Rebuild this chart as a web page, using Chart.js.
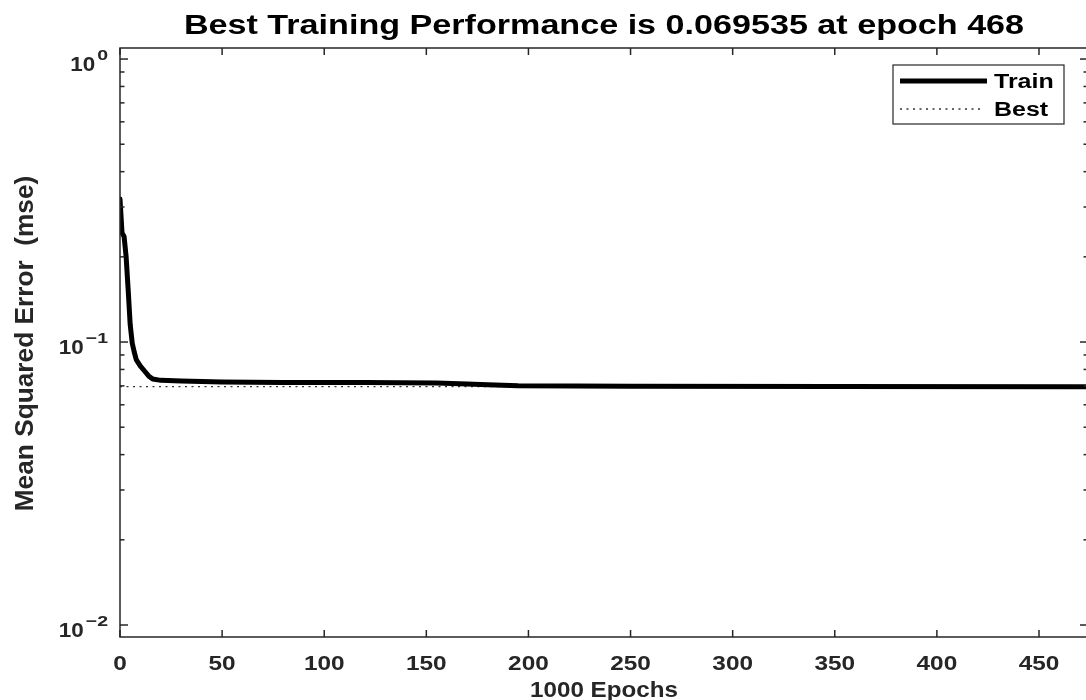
<!DOCTYPE html>
<html>
<head>
<meta charset="utf-8">
<title>Training performance</title>
<script src="https://cdn.jsdelivr.net/npm/chart.js@4.4.1/dist/chart.umd.min.js"></script>
<style>
  html, body { margin: 0; padding: 0; background: #ffffff; overflow: hidden; width: 1086px; height: 700px; }
  #wrap { position: absolute; left: 0; top: 0; width: 1092px; height: 700px; }
</style>
</head>
<body>
<div id="wrap"><canvas id="perf" width="1092" height="700"></canvas></div>
<script>
// ---- data ----
const epochs   = [0, 1, 2, 3, 4, 5, 6, 7, 8, 10, 12, 14, 16, 20, 30, 50, 80, 120, 155, 170, 180, 195, 250, 350, 468, 474];
const trainMse = [0.320, 0.243, 0.236, 0.200, 0.153, 0.115, 0.099, 0.092, 0.0865, 0.0822, 0.0790, 0.0759, 0.0740, 0.0732,
                  0.0728, 0.0722, 0.0720, 0.0719, 0.0716, 0.0711, 0.0706, 0.0700, 0.0698, 0.0697, 0.069535, 0.069535];
const bestMse = 0.069535;
const bestEpoch = 468;
const lastEpoch = 474;
const xTickStep = 50;
const yMajorTicks = [0.01, 0.1, 1];
const yMajorExponents = ['\u22122', '\u22121', '0'];
const titleText = 'Best Training Performance is ' + bestMse.toFixed(6) + ' at epoch ' + bestEpoch;
const xTitleText = '1000 Epochs';
const yTitleText = 'Mean Squared Error  (mse)';
const legendLabels = ['Train', 'Best'];

// ---- style ----
const AXIS_COLOR = '#262626';
const FONT = '"Liberation Sans", Arial, Helvetica, sans-serif';

// minor log ticks 2..9 in each full decade
const yMinorTicks = [];
yMajorTicks.slice(0, -1).forEach(d => { for (let m = 2; m <= 9; m++) yMinorTicks.push(m * d); });

function stretchedText(ctx, text, x, y, size, align, sx, color) {
  ctx.save();
  ctx.font = 'bold ' + size + 'px ' + FONT;
  ctx.fillStyle = color || AXIS_COLOR;
  ctx.textBaseline = 'alphabetic';
  ctx.translate(x, y);
  ctx.scale(sx, 1);
  ctx.textAlign = align;
  ctx.fillText(text, 0, 0);
  ctx.restore();
}
function textWidth(ctx, text, size, sx) {
  ctx.save();
  ctx.font = 'bold ' + size + 'px ' + FONT;
  const w = ctx.measureText(text).width * sx;
  ctx.restore();
  return w;
}
function seg(ctx, x1, y1, x2, y2) {
  ctx.beginPath(); ctx.moveTo(x1, y1); ctx.lineTo(x2, y2); ctx.stroke();
}

// box, inward ticks, tick labels, titles and legend
const matlabAxes = {
  id: 'matlabAxes',
  afterDatasetsDraw(chart) {
    const { ctx, chartArea: a, scales: { x, y } } = chart;
    ctx.save();
    ctx.strokeStyle = AXIS_COLOR;
    ctx.lineWidth = 1.5;
    ctx.strokeRect(a.left, a.top, a.right - a.left, a.bottom - a.top);
    x.ticks.forEach(t => {
      const px = x.getPixelForValue(t.value);
      seg(ctx, px, a.bottom, px, a.bottom - 7);
      seg(ctx, px, a.top, px, a.top + 7);
    });
    yMajorTicks.forEach(v => {
      const py = y.getPixelForValue(v);
      seg(ctx, a.left, py, a.left + 8, py);
      seg(ctx, a.right, py, a.right - 8, py);
    });
    yMinorTicks.forEach(v => {
      const py = y.getPixelForValue(v);
      seg(ctx, a.left, py, a.left + 4.5, py);
      seg(ctx, a.right, py, a.right - 4.5, py);
    });
    ctx.restore();
  },
  afterDraw(chart) {
    const { ctx, chartArea: a, scales: { x, y } } = chart;
    const cx = (a.left + a.right) / 2;

    // title
    stretchedText(ctx, titleText, cx, 34, 27.3, 'center', 1.25, '#000000');

    // x tick labels
    x.ticks.forEach(t => {
      stretchedText(ctx, String(t.value), x.getPixelForValue(t.value), a.bottom + 33, 19.5, 'center', 1.25);
    });
    // x title
    stretchedText(ctx, xTitleText, cx, 697, 22, 'center', 1.1);

    // y tick labels 10^k
    const labelRight = a.left - 12;
    yMajorTicks.forEach((v, i) => {
      const py = y.getPixelForValue(v);
      const exp = yMajorExponents[i];
      const ew = textWidth(ctx, exp, 15, 1.3);
      stretchedText(ctx, exp, labelRight - ew, py + 1, 15, 'left', 1.3);
      stretchedText(ctx, '10', labelRight - ew - 2, py + 12, 19.5, 'right', 1.15);
    });

    // y title (rotated)
    ctx.save();
    ctx.translate(33, (a.top + a.bottom) / 2 + 1);
    ctx.rotate(-Math.PI / 2);
    stretchedText(ctx, yTitleText, 0, 0, 25, 'center', 1.05);
    ctx.restore();

    // legend
    const lx = 893, ly = 65, lw = 171, lh = 59;
    ctx.save();
    ctx.fillStyle = '#ffffff';
    ctx.fillRect(lx, ly, lw, lh);
    ctx.strokeStyle = AXIS_COLOR;
    ctx.lineWidth = 1.2;
    ctx.strokeRect(lx, ly, lw, lh);
    chart.data.datasets.forEach((ds, i) => {
      const ry = ly + 16 + i * 28;
      ctx.save();
      ctx.strokeStyle = ds.borderColor;
      ctx.lineWidth = ds.borderWidth;
      ctx.setLineDash(ds.borderDash || []);
      seg(ctx, lx + 7, ry, lx + (i === 0 ? 94 : 89), ry);
      ctx.restore();
      stretchedText(ctx, legendLabels[i], lx + 101, ry + 7, 20, 'left', 1.25, '#000000');
    });
    ctx.restore();
  }
};

const trainPoints = epochs.map((e, i) => ({ x: e, y: trainMse[i] }));
const bestPoints = [{ x: 0, y: bestMse }, { x: lastEpoch, y: bestMse }];

new Chart(document.getElementById('perf'), {
  type: 'line',
  data: {
    datasets: [
      { label: legendLabels[0], data: trainPoints, borderColor: '#000000', borderWidth: 5,
        pointRadius: 0, tension: 0, borderJoinStyle: 'round', borderCapStyle: 'round', order: 1 },
      { label: legendLabels[1], data: bestPoints, borderColor: '#333333', borderWidth: 1.3,
        borderDash: [2, 4.5], pointRadius: 0, tension: 0, order: 2 }
    ]
  },
  options: {
    responsive: false,
    animation: false,
    layout: { padding: { top: 48, right: 4, left: 0, bottom: 0 } },
    plugins: { legend: { display: false }, title: { display: false }, tooltip: { enabled: false } },
    scales: {
      x: {
        type: 'linear', min: 0, max: lastEpoch,
        ticks: { stepSize: xTickStep, includeBounds: false, display: false },
        grid: { display: false, drawTicks: false },
        border: { display: false },
        afterFit: s => { s.height = 63; }
      },
      y: {
        type: 'logarithmic', min: 0.00907, max: 1.094,
        ticks: { display: false },
        grid: { display: false, drawTicks: false },
        border: { display: false },
        afterFit: s => { s.width = 120; }
      }
    }
  },
  plugins: [matlabAxes]
});
</script>
</body>
</html>
